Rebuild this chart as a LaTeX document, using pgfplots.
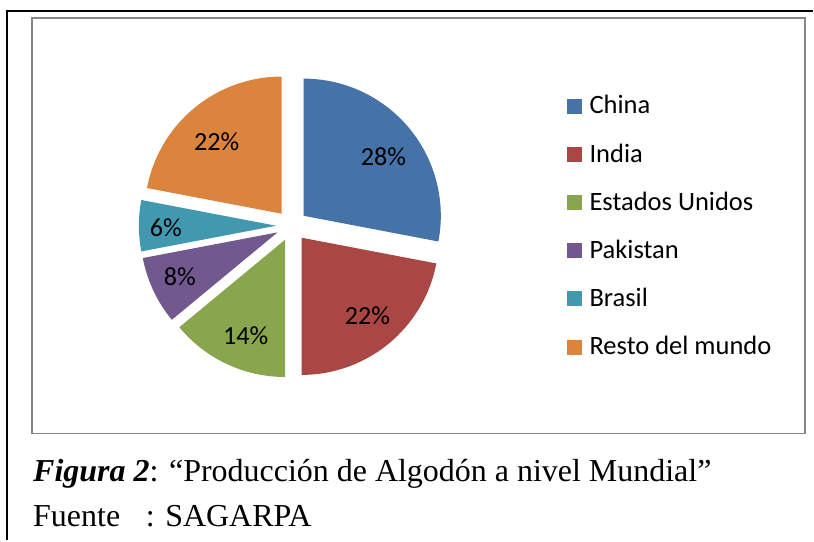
\documentclass[border=0pt]{standalone}
\usepackage{pgfplots}
\usepackage{pgfplotstable}
\pgfplotsset{compat=1.18}
\usepackage{fontspec}
\setmainfont{Liberation Serif}
\newfontfamily\calibri{Carlito}

\definecolor{cChina}{HTML}{4572A7}
\definecolor{cIndia}{HTML}{AA4643}
\definecolor{cEU}{HTML}{89A54E}
\definecolor{cPak}{HTML}{71588F}
\definecolor{cBra}{HTML}{4198AF}
\definecolor{cResto}{HTML}{DB843D}
\definecolor{frame}{HTML}{868686}

% share in %, colour, label centre (px, y down)
\pgfplotstableread[col sep=comma]{
name,val,col,lx,ly
China,28,cChina,384,157
India,22,cIndia,368,316
Estados Unidos,14,cEU,246,336
Pakistan,8,cPak,180,277
Brasil,6,cBra,166,228
Resto del mundo,22,cResto,217,142
}\piedata

\begin{document}
\begin{tikzpicture}
\begin{axis}[
    x=0.75pt, y=0.75pt,
    xmin=0, xmax=814, ymin=0, ymax=541,
    y dir=reverse,
    hide axis, scale only axis, clip=false,
]
\path (axis cs:0,0) (axis cs:814,541);
% frames
\draw[black, line width=1.5pt] (axis cs:814,11) -- (axis cs:7,11) -- (axis cs:7,541);
\draw[frame, line width=1.2pt] (axis cs:32,18) rectangle (axis cs:806,434);

\pgfplotstablegetrowsof{\piedata}
\pgfmathtruncatemacro\nrows{\pgfplotsretval-1}
\def\cum{0}
\pgfplotsforeachungrouped \i in {0,...,\nrows}{%
  \pgfplotstablegetelem{\i}{val}\of\piedata \let\v\pgfplotsretval
  \pgfplotstablegetelem{\i}{col}\of\piedata \let\c\pgfplotsretval
  \pgfplotstablegetelem{\i}{name}\of\piedata \let\nm\pgfplotsretval
  \pgfplotstablegetelem{\i}{lx}\of\piedata \let\lx\pgfplotsretval
  \pgfplotstablegetelem{\i}{ly}\of\piedata \let\ly\pgfplotsretval
  \pgfmathsetmacro\aA{90-3.6*\cum}
  \pgfmathsetmacro\aB{90-3.6*(\cum+\v)}
  \pgfmathsetmacro\ax{292+15.6*cos((\aA+\aB)/2)}
  \pgfmathsetmacro\ay{226-15.6*sin((\aA+\aB)/2)}
  \pgfmathsetmacro\cum{\cum+\v}
  \pgfmathsetmacro\sy{106.5+48.2*\i}
  \pgfmathsetmacro\by{114+48.2*\i}
  \edef\doit{%
    \noexpand\fill[\c] (axis cs:\ax,\ay) -- ++(\aA:103pt)
      arc[start angle=\aA, end angle=\aB, radius=103pt] -- cycle;
    \noexpand\node[font=\noexpand\calibri\noexpand\fontsize{19.6}{22}\noexpand\selectfont, inner sep=0pt]
      at (axis cs:\lx,\ly) {\v\noexpand\%};
    \noexpand\fill[\c] (axis cs:568,\sy-7.5) rectangle (axis cs:583,\sy+7.5);
    \noexpand\node[font=\noexpand\calibri\noexpand\fontsize{19.9}{22}\noexpand\selectfont, inner sep=0pt, anchor=base west]
      at (axis cs:590,\by) {\nm};
  }%
  \doit
}

\node[anchor=base west, inner sep=0pt, font=\fontsize{24}{29}\selectfont]
  at (axis cs:33,482) {\textbf{\textit{Figura 2}}: “Producción de Algodón a nivel Mundial”};
\node[anchor=base west, inner sep=0pt, font=\fontsize{24}{29}\selectfont]
  at (axis cs:33,527) {Fuente\hspace{0.8em}: SAGARPA};
\end{axis}
\end{tikzpicture}
\end{document}
